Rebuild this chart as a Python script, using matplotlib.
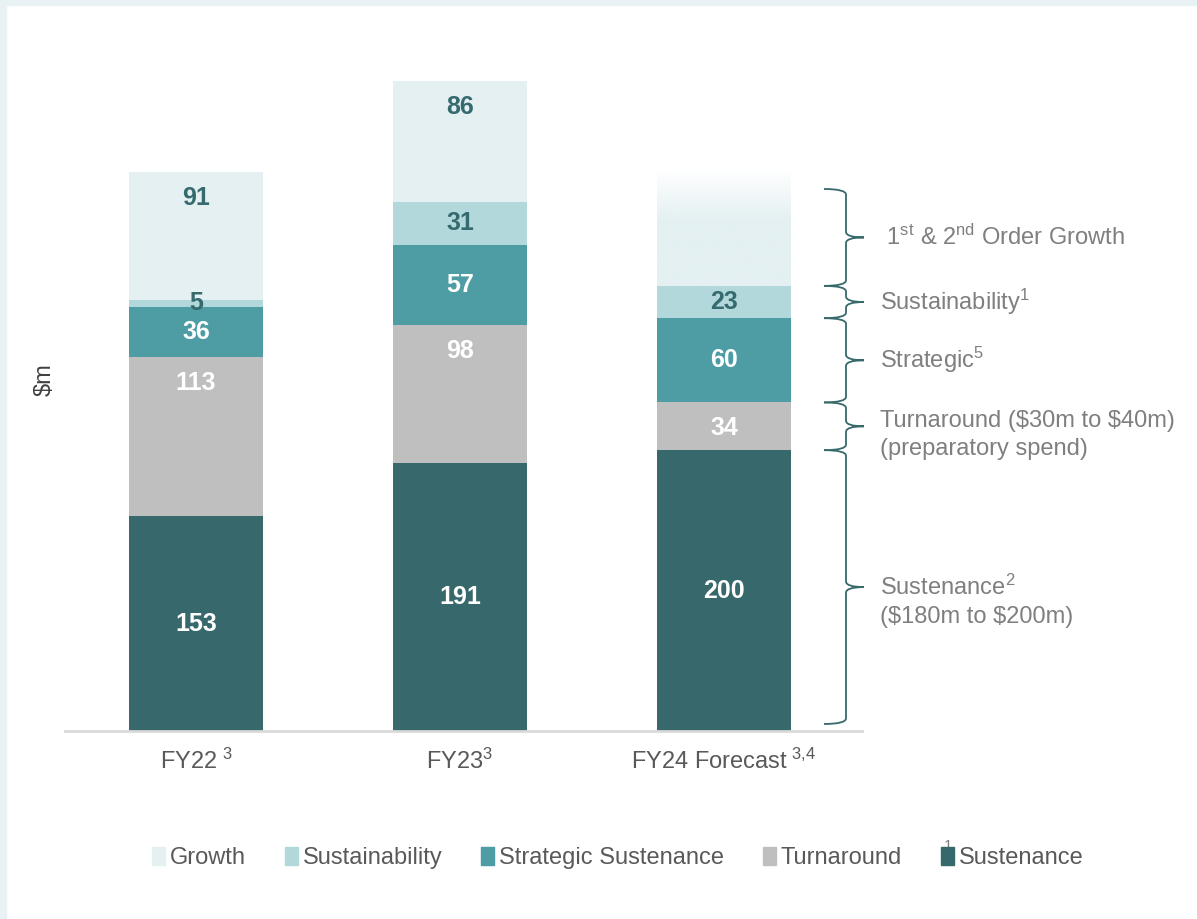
import matplotlib
matplotlib.use("Agg")
import matplotlib.pyplot as plt
import numpy as np
from matplotlib.patches import Patch, PathPatch, Rectangle
from matplotlib.path import Path
from matplotlib.transforms import blended_transform_factory

plt.rcParams["font.family"] = ["Liberation Sans", "DejaVu Sans"]
plt.rcParams["mathtext.fontset"] = "custom"
plt.rcParams["mathtext.rm"] = "Liberation Sans"
plt.rcParams["mathtext.default"] = "regular"

# data ($m)
years = ["FY22", "FY23", "FY24 Forecast"]
year_notes = ["\\ 3", "3", "\\ 3{,}4"]
sustenance = [153, 191, 200]
turnaround = [113, 98, 34]
strategic = [36, 57, 60]
sustainability = [5, 31, 23]
growth = [91, 86, np.nan]      # FY24 growth not given, drawn as a fade
growth_fade_est = 83           # visual height of the FY24 fade

series = ["Sustenance", "Turnaround", "Strategic Sustenance", "Sustainability", "Growth"]
colors = {"Sustenance": "#36686c", "Turnaround": "#bfbfbf",
          "Strategic Sustenance": "#4e9ca4", "Sustainability": "#b2d8dc",
          "Growth": "#e4f0f2"}
label_colors = {"Sustenance": "white", "Turnaround": "white",
                "Strategic Sustenance": "white", "Sustainability": "#356a6e",
                "Growth": "#356a6e"}
top_labelled = {"Growth", "Turnaround"}   # labels sit near the top of the segment

brace_labels = ["Sustenance$^{2}$\n(\\$180m to \\$200m)",
                "Turnaround (\\$30m to \\$40m)\n(preparatory spend)",
                "Strategic$^{5}$",
                "Sustainability$^{1}$",
                " 1$^{st}$ & 2$^{nd}$ Order Growth"]

fig = plt.figure(figsize=(11.97, 9.19), dpi=100)
fig.patches.append(Rectangle((0, 0), 6 / 1197, 1, transform=fig.transFigure,
                             color="#e8f2f4", zorder=0))
fig.patches.append(Rectangle((0, 1 - 5 / 919), 1, 5 / 919, transform=fig.transFigure,
                             color="#e8f2f4", zorder=0))

ax = fig.add_axes([65 / 1197, 188 / 919, 797 / 1197, 674 / 919])
x = np.arange(len(years))
w = 0.505
vals = {"Sustenance": sustenance, "Turnaround": turnaround,
        "Strategic Sustenance": strategic, "Sustainability": sustainability,
        "Growth": growth}

bottom = np.zeros(len(years))
for s in series:
    v = np.array(vals[s], dtype=float)
    ok = ~np.isnan(v)
    ax.bar(x[ok], v[ok], w, bottom=bottom[ok], color=colors[s], zorder=2)
    for i in np.where(ok)[0]:
        top = bottom[i] + v[i]
        y = top - 18.5 if s in top_labelled else bottom[i] + v[i] / 2
        ax.text(x[i], y, f"{v[i]:.0f}", ha="center", va="center", fontsize=18,
                fontweight="bold", color=label_colors[s], zorder=4)
    bottom[ok] += v[ok]

# FY24 growth drawn as a vertical fade
i = 2
rgb = matplotlib.colors.to_rgb(colors["Growth"])
n = 200
t = np.linspace(0, 1, n)
alpha = np.clip((1 - t) / 0.45, 0, 1)
img = np.zeros((n, 1, 4))
img[:, 0, :3] = rgb
img[:, 0, 3] = alpha
ax.imshow(img, extent=[x[i] - w / 2, x[i] + w / 2, bottom[i], bottom[i] + growth_fade_est],
          aspect="auto", origin="lower", zorder=1, interpolation="bilinear")

ax.set_xlim(-0.496, 2.523)
ax.set_ylim(0, 480)
for sp in ["top", "right", "left"]:
    ax.spines[sp].set_visible(False)
ax.spines["bottom"].set_color("#d9d9d9")
ax.spines["bottom"].set_linewidth(2)
ax.set_yticks([])
ax.set_xticks(x, [f"{y}$^{{{n_}}}$" for y, n_ in zip(years, year_notes)])
ax.tick_params(axis="x", length=0, pad=13, labelsize=17, labelcolor="#595959")

fig.text(45 / 1197, 1 - 380 / 919, "$m", rotation=90, ha="center", va="center",
         fontsize=17, color="#404040")

# braces against the FY24 bar
tr = blended_transform_factory(fig.transFigure, ax.transData)
xl, xs, xt = 824 / 1197, 846 / 1197, 864 / 1197
fy24 = [sustenance[2], turnaround[2], strategic[2], sustainability[2]]
edges = [5] + list(np.cumsum(fy24)) + [386]
label_dy = [-10, -6, 0, 0, 0]
for k in range(len(edges) - 1):
    y0, y1 = edges[k], edges[k + 1]
    ym = (y0 + y1) / 2
    r = min(4, (y1 - y0) / 4)
    verts = [(xl, y1), (xs, y1), (xs, y1 - r), (xs, ym + r), (xs, ym), (xt, ym),
             (xs, ym), (xs, ym - r), (xs, y0 + r), (xs, y0), (xl, y0)]
    codes = [Path.MOVETO, Path.CURVE3, Path.CURVE3, Path.LINETO, Path.CURVE3, Path.CURVE3,
             Path.CURVE3, Path.CURVE3, Path.LINETO, Path.CURVE3, Path.CURVE3]
    fig.patches.append(PathPatch(Path(verts, codes), transform=tr, fill=False,
                                 edgecolor="#36686c", lw=1.3, zorder=3))
    fig.text(880 / 1197, ym + label_dy[k], brace_labels[k], transform=tr, ha="left",
             va="center", fontsize=17, color="#7f7f7f", linespacing=1.35)

handles = [Patch(color=colors[s]) for s in series[::-1]]
fig.legend(handles, series[::-1], loc="center", bbox_to_anchor=(0.516, 1 - 858 / 919),
           ncol=5, frameon=False, fontsize=17, handlelength=0.55, handleheight=0.8,
           handletextpad=0.2, columnspacing=1.65, labelcolor="#595959")
fig.text(952 / 1197, 1 - 846 / 919, "1", fontsize=11, color="#7f7f7f",
         ha="right", va="center")

fig.savefig("out.png", dpi=100)
